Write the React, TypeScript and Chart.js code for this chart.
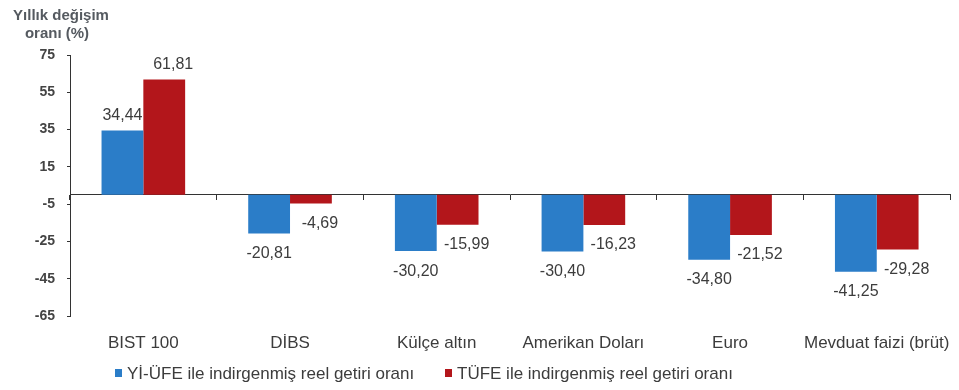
import React, { useEffect, useRef } from "react";
import { Chart, registerables } from "chart.js";

Chart.register(...registerables);

const categories = ["BIST 100", "DİBS", "Külçe altın", "Amerikan Doları", "Euro", "Mevduat faizi (brüt)"];
const yiUfeValues = [34.44, -20.81, -30.2, -30.4, -34.8, -41.25];
const tufeValues = [61.81, -4.69, -15.99, -16.23, -21.52, -29.28];
const seriesNames = ["Yİ-ÜFE ile indirgenmiş reel getiri oranı", "TÜFE ile indirgenmiş reel getiri oranı"];
const titleLines = ["Yıllık değişim", "oranı (%)"];
const yMin = -65;
const yMax = 75;
const yStep = 20;

const BLUE = "#2b7dc8";
const RED = "#b3161b";
const TEXT = "#3c3c3c";
const FONT = "'Liberation Sans', Arial, sans-serif";

const fmt = (v: number) => v.toFixed(2).replace(".", ",");

const valueLabelPlugin = {
  id: "valueLabels",
  afterDatasetsDraw(chart: any) {
    const ctx = chart.ctx;
    ctx.save();
    ctx.font = `16px ${FONT}`;
    ctx.fillStyle = TEXT;
    ctx.textAlign = "center";
    chart.data.datasets.forEach((ds: any, di: number) => {
      const meta = chart.getDatasetMeta(di);
      const dx = di === 1 ? 9 : 0;
      meta.data.forEach((el: any, i: number) => {
        const v = ds.data[i];
        if (v >= 0) {
          ctx.textBaseline = "alphabetic";
          ctx.fillText(fmt(v), el.x + dx, el.y - 11);
        } else {
          ctx.textBaseline = "middle";
          ctx.fillText(fmt(v), el.x + dx, el.y + 20);
        }
      });
    });
    ctx.restore();
  },
};

const decorPlugin = {
  id: "decor",
  afterDraw(chart: any) {
    const ctx = chart.ctx;
    ctx.save();
    // axis title
    ctx.font = `bold 15px ${FONT}`;
    ctx.fillStyle = "#555a60";
    ctx.textAlign = "center";
    ctx.textBaseline = "middle";
    ctx.fillText(titleLines[0], 61, 16);
    ctx.fillText(titleLines[1], 57, 34);
    // legend
    const colors = [BLUE, RED];
    const xs = [115, 445];
    ctx.font = `17px ${FONT}`;
    ctx.textAlign = "left";
    seriesNames.forEach((name, i) => {
      ctx.fillStyle = colors[i];
      ctx.fillRect(xs[i], 369, 7, 8);
      ctx.fillStyle = TEXT;
      ctx.fillText(name, xs[i] + 12, 374);
    });
    ctx.restore();
  },
};

export default function App() {
  const ref = useRef<HTMLCanvasElement>(null);
  useEffect(() => {
    if (!ref.current) return;
    const chart = new Chart(ref.current, {
      type: "bar",
      data: {
        labels: categories,
        datasets: [
          { label: seriesNames[0], data: yiUfeValues, backgroundColor: BLUE, xAxisID: "x", yAxisID: "y", categoryPercentage: 0.57, barPercentage: 1 },
          { label: seriesNames[1], data: tufeValues, backgroundColor: RED, xAxisID: "x", yAxisID: "y", categoryPercentage: 0.57, barPercentage: 1 },
        ],
      },
      options: {
        responsive: false,
        animation: false,
        devicePixelRatio: 1,
        layout: { padding: { left: 8, right: 6, top: 55, bottom: 0 } },
        plugins: { legend: { display: false }, tooltip: { enabled: false }, title: { display: false } },
        scales: {
          x: {
            type: "category",
            position: { y: 0 } as any,
            offset: true,
            grid: { display: true, drawOnChartArea: false, drawTicks: true, tickLength: 5, offset: true, color: "#333" },
            border: { display: true, color: "#333", width: 1 },
            ticks: { display: false },
          },
          xl: {
            type: "category",
            position: "bottom",
            offset: true,
            grid: { display: false },
            border: { display: false },
            ticks: { color: TEXT, font: { size: 17, family: FONT }, padding: 9, maxRotation: 0, autoSkip: false },
            afterFit: (s: any) => { s.height = 74; },
          },
          y: {
            type: "linear",
            min: yMin,
            max: yMax,
            grid: { display: true, drawOnChartArea: false, drawTicks: true, tickLength: 3, color: "#333" },
            border: { display: true, color: "#333", width: 1 },
            ticks: { stepSize: yStep, color: "#444", font: { size: 14, family: FONT, weight: "bold" }, padding: 12, callback: (v: any) => String(v) },
            afterFit: (s: any) => { s.width = 62; },
          },
        },
      },
      plugins: [valueLabelPlugin, decorPlugin],
    });
    return () => chart.destroy();
  }, []);
  return (
    <div style={{ position: "absolute", left: 0, top: 0, width: 959, height: 390, background: "#fff" }}>
      <canvas ref={ref} width={959} height={390} />
    </div>
  );
}
